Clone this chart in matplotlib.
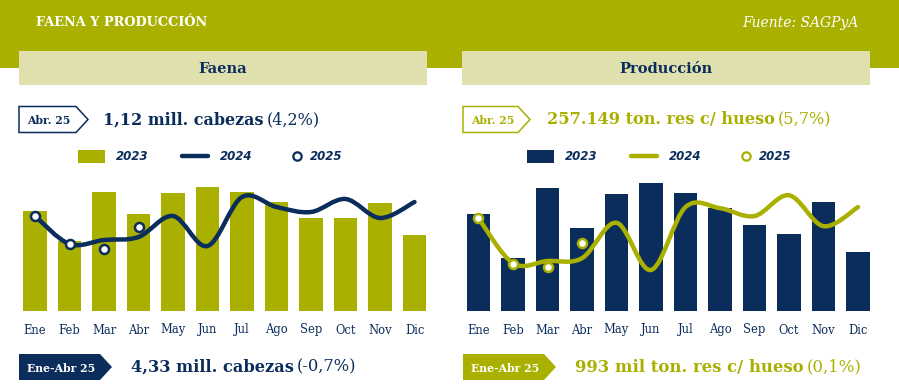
import matplotlib
matplotlib.use('Agg')
import matplotlib.pyplot as plt
from matplotlib.path import Path
from matplotlib.patches import PathPatch, Polygon, Rectangle
from matplotlib.lines import Line2D

OLIVE = '#A9B000'
NAVY = '#0B2D5C'
KHAKI = '#E0DFAE'

months = ['Ene', 'Feb', 'Mar', 'Abr', 'May', 'Jun', 'Jul', 'Ago', 'Sep', 'Oct', 'Nov', 'Dic']

# Faena (miles de cabezas)
faena_2023 = [1200, 1050, 1295, 1185, 1290, 1320, 1295, 1245, 1165, 1165, 1240, 1080]
faena_2024 = [1175, 1035, 1055, 1070, 1175, 1025, 1270, 1220, 1195, 1260, 1165, 1245]
faena_2025 = [1175, 1035, 1010, 1120]

# Produccion (miles de ton. res c/ hueso)
prod_2023 = [309, 230, 355, 284, 344, 364, 346, 319, 289, 273, 330, 241]
prod_2024 = [301, 221, 225, 230, 293, 209, 321, 319, 305, 342, 287, 321]
prod_2025 = [301, 220, 215, 257]

W, H = 899, 388
fig = plt.figure(figsize=(W / 100, H / 100), dpi=100)
bg = fig.add_axes([0, 0, 1, 1])
bg.set_xlim(0, W)
bg.set_ylim(H, 0)
bg.axis('off')

SERIF = 'DejaVu Serif'


def px_axes(x0, y0, x1, y1):
    return fig.add_axes([x0 / W, 1 - y1 / H, (x1 - x0) / W, (y1 - y0) / H])


def smooth_path(xs, ys):
    pts = list(zip(xs, ys))
    n = len(pts)
    verts = [pts[0]]
    codes = [Path.MOVETO]
    for i in range(n - 1):
        p0 = pts[max(i - 1, 0)]
        p1 = pts[i]
        p2 = pts[i + 1]
        p3 = pts[min(i + 2, n - 1)]
        c1 = (p1[0] + (p2[0] - p0[0]) / 6, p1[1] + (p2[1] - p0[1]) / 6)
        c2 = (p2[0] - (p3[0] - p1[0]) / 6, p2[1] - (p3[1] - p1[1]) / 6)
        verts += [c1, c2, p2]
        codes += [Path.CURVE4] * 3
    return Path(verts, codes)


def fit_text(x, y, s, target_w, size, **kw):
    t = bg.text(x, y, s, fontsize=size, **kw)
    r = fig.canvas.get_renderer()
    w = t.get_window_extent(r).width
    t.set_fontsize(size * target_w / w)
    return t


def after(t, s, gap=3, **kw):
    r = fig.canvas.get_renderer()
    bb = t.get_window_extent(r)
    x = bb.x1 + gap
    y = t.get_position()[1]
    return bg.text(x, y, s, fontsize=t.get_fontsize(), va='center', **kw)


def tag(x0, y0, xr, xt, y1, label, filled, color):
    verts = [(x0, y0), (xr, y0), (xt, (y0 + y1) / 2), (xr, y1), (x0, y1)]
    if filled:
        bg.add_patch(Polygon(verts, closed=True, fc=color, ec='none'))
        tc = 'white'
    else:
        bg.add_patch(Polygon(verts, closed=True, fc='white', ec=color, lw=1.1))
        tc = color
    bg.text(x0 + 8, (y0 + y1) / 2 + 1, label, fontsize=7.8, fontweight='bold',
            family=SERIF, color=tc, va='center', ha='left')


# header band
bg.add_patch(Rectangle((0, 0), W, 68, fc=OLIVE, ec='none'))
fit_text(36, 23, 'FAENA Y PRODUCCIÓN', 172, 10, family=SERIF, fontweight='bold',
         color='white', va='center')
bg.text(859, 23, 'Fuente: SAGPyA', fontsize=10, family=SERIF, style='italic',
        color='white', va='center', ha='right')

panels = [
    dict(x0=19, x1=427, title='Faena', bars=faena_2023, line=faena_2024, dots=faena_2025,
         bar_c=OLIVE, line_c=NAVY, c0=35, ylo=700, k=5.0,
         top=('1,12 mill. cabezas', '(4,2%)', 160), bot=('4,33 mill. cabezas', '(-0,7%)', 163),
         tc=NAVY, tag_top=(88, 76), tag_bot=(112, 100), bot_fill=NAVY, tx=103, bx=131,
         leg=78),
    dict(x0=462, x1=870, title='Producción', bars=prod_2023, line=prod_2024, dots=prod_2025,
         bar_c=NAVY, line_c=OLIVE, c0=478.5, ylo=136, k=1.78,
         top=('257.149 ton. res c/ hueso', '(5,7%)', 227), bot=('993 mil ton. res c/ hueso', '(0,1%)', 228),
         tc=OLIVE, tag_top=(530, 518), tag_bot=(556, 544), bot_fill=OLIVE, tx=547, bx=575,
         leg=527),
]

step = 34.5
base_y = 311
top_y = 175

for p in panels:
    # title box
    bg.add_patch(Rectangle((p['x0'], 51), p['x1'] - p['x0'], 34, fc=KHAKI, ec='none'))
    bg.text((p['x0'] + p['x1']) / 2, 69, p['title'], fontsize=10.5, family=SERIF,
            fontweight='bold', color=NAVY, ha='center', va='center')

    # top tag + value
    tx0 = p['x0'] if p['x0'] < 100 else 463
    tag(tx0, 106.5, p['tag_top'][1], p['tag_top'][0], 132.5, 'Abr. 25', False, p['tc'])
    t = fit_text(p['tx'], 120, p['top'][0], p['top'][2], 12, family=SERIF,
                 fontweight='bold', color=p['tc'], va='center')
    after(t, p['top'][1], family=SERIF, color=p['tc'])

    # bottom tag + value
    tag(tx0, 354, p['tag_bot'][1], p['tag_bot'][0], 380, 'Ene-Abr 25', True, p['bot_fill'])
    t = fit_text(p['bx'], 367, p['bot'][0], p['bot'][2], 12, family=SERIF,
                 fontweight='bold', color=p['tc'], va='center')
    after(t, p['bot'][1], family=SERIF, color=p['tc'])

    # legend
    lx = p['leg']
    bg.add_patch(Rectangle((lx, 150), 27, 13, fc=p['bar_c'], ec='none'))
    bg.text(lx + 38, 157, '2023', fontsize=8.5, fontweight='bold', style='italic',
            color=NAVY, va='center')
    bg.add_line(Line2D([lx + 104, lx + 130], [156, 156], color=p['line_c'], lw=3.2,
                       solid_capstyle='round'))
    bg.text(lx + 142, 157, '2024', fontsize=8.5, fontweight='bold', style='italic',
            color=NAVY, va='center')
    bg.plot([lx + 219], [156], 'o', ms=6, mfc='white', mec=p['line_c'], mew=1.6)
    bg.text(lx + 232, 157, '2025', fontsize=8.5, fontweight='bold', style='italic',
            color=NAVY, va='center')

    # chart
    ax_x0 = p['c0'] - 0.5 * step - 2
    ax_x1 = p['c0'] + 11.5 * step + 2
    ax = px_axes(ax_x0, top_y, ax_x1, base_y)
    ax.patch.set_alpha(0)
    ax.set_xlim((ax_x0 - p['c0']) / step, (ax_x1 - p['c0']) / step)
    ax.set_ylim(p['ylo'], p['ylo'] + p['k'] * (base_y - top_y))
    x = list(range(12))
    ax.bar(x, p['bars'], width=0.67, color=p['bar_c'], bottom=0, zorder=1)
    ax.add_patch(PathPatch(smooth_path(x, p['line']), fill=False, ec=p['line_c'], lw=3.2,
                           capstyle='round', joinstyle='round', zorder=2))
    ax.plot(x[:len(p['dots'])], p['dots'], 'o', ms=6.5, mfc='white', mec=p['line_c'],
            mew=1.8, zorder=3, clip_on=False)
    ax.set_xticks(x)
    ax.set_xticklabels(months, family=SERIF, fontsize=8.3, color=NAVY)
    ax.tick_params(axis='x', length=0, pad=9)
    ax.set_yticks([])
    for s in ax.spines.values():
        s.set_visible(False)

fig.savefig('out.png', dpi=100)
